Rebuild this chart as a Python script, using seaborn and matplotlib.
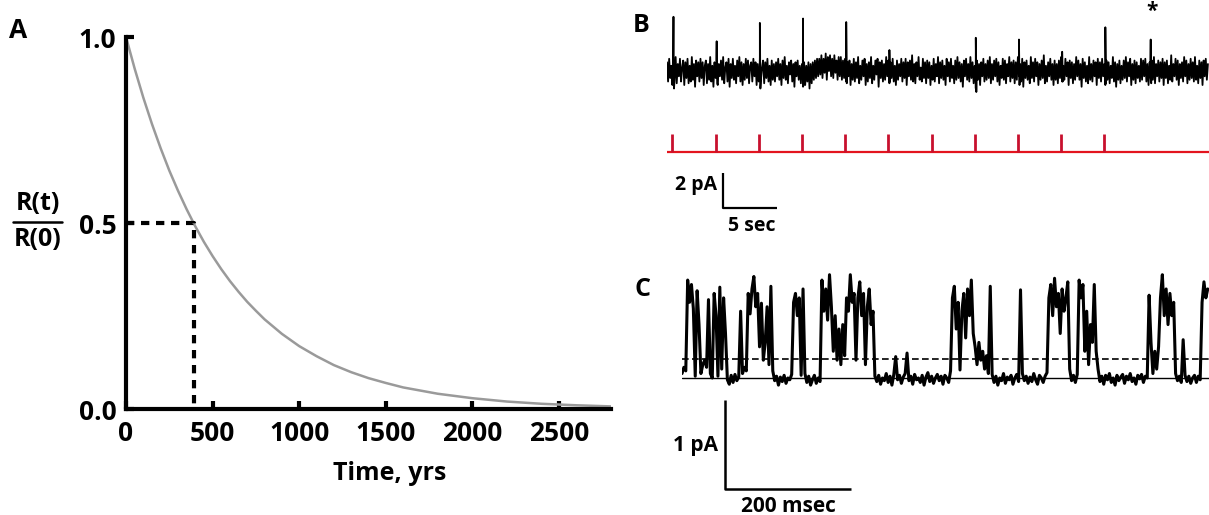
import numpy as np
import pandas as pd
import matplotlib
matplotlib.use("Agg")
import matplotlib.pyplot as plt
import seaborn as sns
from matplotlib.lines import Line2D

# ---------------- data ----------------
# Panel A: decay curve R(t)/R(0)
A_years = [0, 50, 100, 150, 200, 250, 300, 350, 400, 450, 500, 550, 600, 650, 700,
           750, 800, 900, 1000, 1100, 1200, 1300, 1400, 1500, 1600, 1800, 2000,
           2200, 2400, 2600, 2800]
A_ratio = [1.000, 0.915, 0.837, 0.766, 0.701, 0.641, 0.587, 0.537, 0.491, 0.449,
           0.411, 0.376, 0.344, 0.315, 0.288, 0.264, 0.241, 0.202, 0.169, 0.142,
           0.118, 0.099, 0.083, 0.070, 0.058, 0.041, 0.029, 0.020, 0.014, 0.010, 0.007]
A_half_life = 390
A_xticks = [0, 500, 1000, 1500, 2000, 2500]
A_yticks = [0.0, 0.5, 1.0]
A_yticklabels = ["0.0", "0.5", "1.0"]

# Panel B: current trace (pA), sampled every 0.1 s
B_dt = 0.1
B_noise = [
    0.5, -0.6, 0.7, -0.4, 0.3, -0.8, 0.6, -0.5, 0.8, -0.7, 0.4, -0.3, 0.7, -0.6, 0.2, 0.6, -0.8, 0.5, -0.4, 0.7,
    -0.7, 0.3, -0.6, 0.8, -0.5, 0.4, -0.9, 0.6, -0.3, 0.5, -0.6, 0.7, -0.4, 0.5, -0.8, 0.3, 0.6, -0.7, 0.4, -0.5,
    0.8, -0.6, 0.3, -0.9, 0.5, -0.4, 0.7, -0.8, 0.4, -0.3, 0.6, -0.5, 0.8, -0.7, 0.2, 0.5, -0.6, 0.7, -0.9, 0.4,
    -0.4, 0.7, -0.5, 0.3, -0.7, 0.6, -0.3, 0.8, -0.6, 0.5, -0.8, 0.4, -0.5, 0.7, -0.4, 0.6, -0.7, 0.3, 0.5, -0.6,
    0.7, -0.3, 0.5, -0.8, 0.4, -0.6, 0.8, -0.5, 0.2, 0.6, -0.7, 0.5, -0.4, 0.7, -0.6, 0.3, -0.8, 0.6, -0.5, 0.4,
    -0.6, 0.5, -0.3, 0.7, -0.5, 0.4, -0.8, 0.6, -0.4, 0.8, -0.5, 0.3, -0.7, 0.5, -0.2, 0.6, -0.6, 0.4, -0.9, 0.5,
    -0.3, 0.6, -0.5, 0.3, -0.7, 0.4, -0.9, 0.5, -0.8, 0.3, -0.6, 0.5, -1.0, 0.4, -0.7, 0.5, -0.5, 0.6, -0.4, 0.7,
    -0.3, 0.7, -0.2, 0.9, -0.4, 0.7, -0.1, 1.0, -0.5, 0.8, 0.0, 0.9, -0.3, 0.7, -0.4, 0.9, -0.1, 0.6, -0.5, 0.8,
    -0.3, 0.8, -0.5, 0.6, -0.4, 0.7, -0.6, 0.5, -0.3, 0.6, -0.8, 0.4, -0.5, 0.7, -0.6, 0.5, -0.4, 0.8, -0.7, 0.3,
    -0.5, 0.6, -0.3, 0.7, -0.8, 0.4, -0.6, 0.5, -0.4, 0.8, -0.7, 0.3, -0.5, 0.6, -0.2, 0.7, -0.9, 0.5, -0.4, 0.6,
    -0.6, 0.4, -0.5, 0.8, -0.3, 0.6, -0.7, 0.5, -0.4, 0.7, -0.6, 0.3, -0.8, 0.6, -0.5, 0.4, -0.3, 0.7, -0.6, 0.5,
    -0.4, 0.7, -0.8, 0.5, -0.3, 0.6, -0.5, 0.9, -0.6, 0.4, -0.7, 0.5, -0.3, 0.8, -0.5, 0.2, -0.6, 0.7, -0.4, 0.5,
    -0.7, 0.6, -0.4, 0.5, -0.8, 0.3, -0.5, 0.7, -0.6, 0.4, -0.3, 0.8, -0.7, 0.5, -0.4, 0.6, -0.5, 0.3, -0.8, 0.7,
    -0.3, 0.5, -0.6, 0.7, -0.4, 0.3, -0.7, 0.6, -0.5, 0.8, -0.4, 0.5, -0.6, 0.4, -0.9, 0.6, -0.3, 0.7, -0.5, 0.4,
    -0.6, 0.8, -0.4, 0.5, -0.7, 0.3, -1.0, 0.6, -0.5, 0.4, -0.8, 0.5, -0.3, 0.7, -0.6, 0.4, -0.5, 0.6, -0.4, 0.8,
    -0.7, 0.4, -0.5, 0.6, -0.3, 0.7, -0.6, 0.5, -0.8, 0.3, -0.4, 0.7, -0.5, 0.6, -0.7, 0.4, -0.3, 0.8, -0.6, 0.5,
    -0.4, 0.6, -0.7, 0.5, -0.5, 0.8, -0.3, 0.4, -0.6, 0.7, -0.9, 0.5, -0.4, 0.6, -0.5, 0.3, -0.7, 0.8, -0.4, 0.5,
    -0.6, 0.7, -0.3, 0.5, -0.8, 0.4, -0.5, 0.6, -0.4, 0.9, -0.7, 0.3, -0.6, 0.5, -0.3, 0.7, -0.5, 0.4, -0.8, 0.6,
    -0.5, 0.4, -0.7, 0.6, -0.4, 0.8, -0.6, 0.3, -0.5, 0.7, -0.3, 0.5, -0.8, 0.6, -0.4, 0.5, -0.7, 0.4, -0.5, 0.8,
    -0.3, 0.6, -0.5, 0.4, -0.9, 0.7, -0.4, 0.5, -0.6, 0.3, -0.7, 0.8, -0.5, 0.4, -0.6, 0.6, -0.3, 0.5, -0.8, 0.7,
    -0.4, 0.5, -0.6, 0.7, -0.3, 0.4, -0.8, 0.6, -0.5, 0.5, -0.7, 0.3, -0.4, 0.8, -0.6, 0.5, -0.9, 0.4, -0.5, 0.6,
    -0.7, 0.3, -0.5, 0.6, -0.4, 0.8, -0.6, 0.5, -0.3, 0.7, -0.8, 0.4, -0.5, 0.6, -0.7, 0.5, -0.4, 0.3, -0.6, 0.7,
    -0.5, 0.6, -0.3, 0.7, -0.6, 0.4, -0.8, 0.5, -0.4, 0.6, -0.5, 0.8, -0.7, 0.4, -0.3, 0.6, -0.6, 0.5, -0.4, 0.7,
    -0.8, 0.5, -0.4, 0.6, -0.7, 0.3, -0.5, 0.9, -0.6, 0.4, -0.3, 0.7, -0.5, 0.6, -0.8, 0.4, -0.4, 0.5, -0.6, 0.8,
    -0.3, 0.6, -0.7, 0.4, -0.5, 0.7, -0.4, 0.5, -0.6, 0.8, -0.5, 0.3, -0.7, 0.6, -0.4, 0.5, -0.8, 0.6, -0.3, 0.7,
    -0.5, 0.4,
]
B_spike_times = [0.6, 4.6, 8.6, 12.6, 16.6, 20.6, 28.6, 32.6, 36.6, 40.6, 44.8]
B_spike_amps = [3.1, 1.7, 2.75, 3.0, 2.8, 1.2, 1.9, 1.8, 1.1, 2.5, 1.8]
B_spike_dips = [-1.0, -0.7, -1.0, -0.8, -0.7, -0.6, -1.2, -0.8, -0.6, -0.7, -0.7]
B_stim_times = [0.5, 4.5, 8.5, 12.5, 16.5, 20.5, 24.5, 28.5, 32.5, 36.5, 40.5]

# Panel C: single-channel current (pA), sampled every 3 ms
C_dt = 3
C_pA = [
    0.05, 0.12, 0.08, 1.10, 0.85, 1.05, 0.78, 0.02, 0.98, 0.60,
    0.05, 0.15, 0.20, 0.12, 0.88, 0.05, 0.00, 0.95, 0.70, 0.02,
    1.02, 0.10, 0.90, 0.50, -0.02, -0.07, 0.03, -0.05, 0.04, -0.03,
    0.01, 0.75, 0.05, 0.12, 0.08, 0.95, 0.72, 1.00, 1.14, 0.80,
    0.95, 0.35, 0.84, 0.20, 0.40, 0.80, 0.15, 1.03, 0.08, -0.03,
    0.02, -0.08, 0.01, -0.04, 0.03, -0.06, 0.00, -0.02, 0.04, 0.85,
    0.95, 0.70, 0.90, 0.03, 1.00, 0.05, -0.05, 0.02, -0.08, -0.02,
    0.03, -0.06, 0.00, -0.04, 1.10, 0.75, 1.00, 0.65, 1.16, 0.80,
    0.30, 0.70, 0.20, 0.55, 0.15, 0.60, 0.25, 0.90, 0.75, 1.16,
    0.85, 0.95, 0.20, 0.90, 1.08, 0.70, 0.95, 0.15, 0.80, 1.00,
    0.60, 0.75, 0.02, -0.04, 0.03, -0.07, 0.00, -0.03, 0.05, -0.05,
    0.02, -0.08, 0.04, 0.24, -0.02, 0.03, -0.06, 0.01, 0.05, 0.28,
    -0.03, 0.02, -0.07, 0.04, -0.02, 0.00, -0.05, 0.03, -0.08, 0.01,
    0.06, -0.04, 0.02, -0.06, 0.00, 0.04, -0.03, 0.02, -0.07, 0.03,
    0.00, -0.05, 0.08, 0.90, 1.03, 0.55, 0.85, 0.09, 0.75, 0.95,
    0.45, 1.00, 0.70, 1.10, 0.50, 0.35, 0.15, 0.40, 0.20, 0.30,
    0.10, 0.25, 0.05, 1.03, 0.04, -0.05, 0.02, -0.08, 0.00, -0.03,
    0.05, -0.06, 0.01, -0.02, 0.03, -0.07, 0.00, 0.04, -0.04, 0.99,
    0.05, -0.03, 0.02, -0.06, 0.01, -0.04, 0.05, -0.02, -0.07, 0.03,
    0.00, -0.05, 0.02, 0.06, 0.90, 1.05, 0.70, 1.12, 0.80, 0.95,
    0.50, 1.00, 0.75, 0.90, 1.08, 0.10, -0.03, 0.03, -0.05, 0.04,
    1.10, 0.90, 1.05, 0.30, 0.75, 0.15, 0.60, 0.40, 1.05, 0.30,
    0.10, -0.04, 0.02, -0.07, 0.03, -0.02, 0.05, -0.05, 0.00, -0.08,
    0.03, -0.03, 0.01, 0.04, -0.06, 0.02, -0.02, 0.05, -0.04, 0.00,
    -0.07, 0.03, -0.01, 0.04, -0.05, 0.02, 0.00, 0.93, 0.40, 0.05,
    0.30, 0.10, 0.35, 0.90, 1.16, 0.70, 1.00, 0.60, 0.95, 0.70,
    0.85, 0.05, -0.03, 0.02, -0.05, 0.43, 0.03, -0.04, 0.02, -0.06,
    0.00, 0.03, -0.05, 0.02, -0.02, 0.85, 1.08, 0.90, 1.00,
]
C_dashed_level = 0.21

# ---------------- style ----------------
sns.set_theme(style="white")
plt.rcParams["font.family"] = ["Open Sans", "DejaVu Sans"]
plt.rcParams["font.weight"] = "bold"

W, H = 1209, 515
fig = plt.figure(figsize=(W / 100, H / 100), dpi=100)
fig.patch.set_facecolor("white")


def box(l, t, r, b):
    return [l / W, 1 - b / H, (r - l) / W, (b - t) / H]


def ftext(x, y, s, size, ha="center", va="center"):
    fig.text(x / W, 1 - y / H, s, fontsize=size, fontweight="bold",
             ha=ha, va=va, color="black")


# ---------------- Panel A ----------------
axA = fig.add_axes(box(126, 37, 611, 409))
sns.lineplot(x=A_years, y=A_ratio, ax=axA, color="#9a9a9a", lw=1.8,
             estimator=None, sort=False)
axA.plot([0, A_half_life, A_half_life], [0.5, 0.5, 0.0], color="black",
         lw=3, ls=(0, (2, 1.6)), solid_capstyle="butt", dash_capstyle="butt")
axA.set_xlim(0, 2800)
axA.set_ylim(0, 1.0)
for s in ["top", "right"]:
    axA.spines[s].set_visible(False)
for s in ["left", "bottom"]:
    axA.spines[s].set_linewidth(3)
    axA.spines[s].set_color("black")
axA.set_xticks(A_xticks)
axA.set_xticklabels([str(v) for v in A_xticks])
axA.set_yticks(A_yticks)
axA.set_yticklabels(A_yticklabels)
axA.tick_params(direction="in", length=6, width=3, labelsize=19,
                colors="black", bottom=True, left=True)
axA.tick_params(axis="x", pad=8)
axA.tick_params(axis="y", pad=7)
for lab in axA.get_xticklabels() + axA.get_yticklabels():
    lab.set_fontweight("bold")
axA.set_xlabel("Time, yrs", fontsize=18, fontweight="bold", color="black")
axA.xaxis.set_label_coords((390 - 126) / (611 - 126), (409 - 461) / (409 - 37))
axA.set_ylabel("")
axA.set_facecolor("white")

ftext(18, 30, "A", 19)
ftext(37.5, 204, "R(t)", 18)
ftext(37.5, 240, "R(0)", 18)
fig.add_artist(Line2D([13 / W, 62 / W], [1 - 222 / H, 1 - 222 / H],
                      transform=fig.transFigure, color="black", lw=1.8))

# ---------------- Panel B ----------------
axB = fig.add_axes(box(667, 0, 1209, 240))
b_t = list(np.arange(len(B_noise)) * B_dt)
b_i = list(B_noise)
for ts, amp, dip in zip(B_spike_times, B_spike_amps, B_spike_dips):
    b_t += [ts - 0.02, ts, ts + 0.05]
    b_i += [0.1, amp, dip]
dfB = pd.DataFrame({"t": b_t, "i": b_i}).sort_values("t", kind="stable")
sns.lineplot(data=dfB, x="t", y="i", ax=axB, color="black", lw=1.3,
             estimator=None, sort=False)
axB.axis("off")
axB.set_xlim(0, 50.2)
axB.set_ylim(-9.66, 4.06)
stim_base, stim_top = -4.63, -3.6
axB.hlines(stim_base, 0, 50.2, color="#e3141e", lw=1.6)
axB.vlines(B_stim_times, stim_base, stim_top, color="#c8102e", lw=2.0)
axB.plot([5.19, 5.19, 10.19], [-5.83, -7.83, -7.83], color="black", lw=1.6,
         clip_on=False, solid_capstyle="butt")

ftext(641, 25, "B", 18)
ftext(1152, 11, "*", 15)
ftext(717, 185, "2 pA", 14, ha="right")
ftext(752, 226, "5 sec", 14)

# ---------------- Panel C ----------------
axC = fig.add_axes(box(682, 270, 1209, 515))
c_t = np.arange(len(C_pA)) * C_dt
sns.lineplot(x=c_t, y=C_pA, ax=axC, color="black", lw=2.2,
             estimator=None, sort=False)
axC.axis("off")
axC.set_xlim(0, 836)
axC.set_ylim(-1.539, 1.213)
axC.axhline(0, color="black", lw=1.0)
axC.axhline(C_dashed_level, color="black", lw=1.2, ls=(0, (4, 2)))
axC.plot([68.3, 68.3, 268.3], [-0.247, -1.247, -1.247], color="black", lw=1.8,
         clip_on=False, solid_capstyle="butt")

ftext(643, 289, "C", 18)
ftext(718, 445, "1 pA", 15, ha="right")
ftext(788, 506, "200 msec", 15)

fig.savefig("out.png", dpi=100, facecolor="white")
